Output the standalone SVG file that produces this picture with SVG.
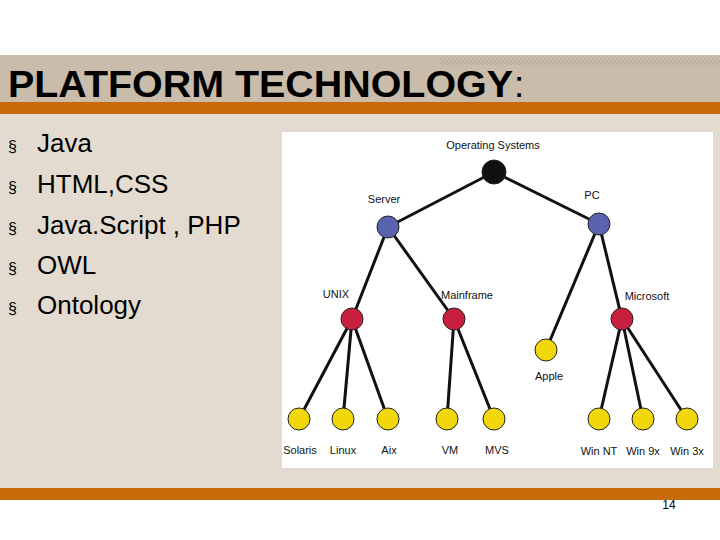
<svg xmlns="http://www.w3.org/2000/svg" width="720" height="540" viewBox="0 0 720 540">
<defs>
<pattern id="hatch" width="4" height="4" patternUnits="userSpaceOnUse"><rect width="4" height="4" fill="#c9bcaa"/><path d="M0,4 L4,0" stroke="#b3a694" stroke-width="1"/></pattern>
</defs>
<style>
.b{font-family:"Liberation Sans",Arial,sans-serif;font-size:26px;fill:#000}
.s{font-family:"Liberation Sans",Arial,sans-serif;font-size:16px;fill:#000}
.l{font-family:"Liberation Sans",Arial,sans-serif;font-size:11px;fill:#111;text-anchor:middle}
.e{stroke:#111;stroke-width:3;fill:none}
.n{stroke:#222;stroke-width:1}
</style>
<rect width="720" height="540" fill="#fff"/>
<rect x="0" y="55" width="720" height="48" fill="#c9bcaa"/>
<rect x="440" y="57" width="280" height="8" fill="url(#hatch)"/>
<rect x="0" y="102" width="720" height="12" fill="#c8690a"/>
<rect x="0" y="114" width="720" height="374" fill="#e3dbcf"/>
<rect x="0" y="488" width="720" height="12" fill="#c8690a"/>
<text x="8" y="97" font-family="Liberation Sans,Arial,sans-serif" font-size="37" font-weight="bold" textLength="505" lengthAdjust="spacingAndGlyphs">PLATFORM TECHNOLOGY</text>
<text x="514" y="97" font-family="Liberation Sans,Arial,sans-serif" font-size="37">:</text>
<g id="bullets">
<text class="s" x="8" y="152">§</text><text class="b" x="37" y="152">Java</text>
<text class="s" x="8" y="193">§</text><text class="b" x="37" y="193">HTML,CSS</text>
<text class="s" x="8" y="234">§</text><text class="b" x="37" y="234">Java.Script , PHP</text>
<text class="s" x="8" y="274">§</text><text class="b" x="37" y="274">OWL</text>
<text class="s" x="8" y="314">§</text><text class="b" x="37" y="314">Ontology</text>
</g>
<rect x="282" y="132" width="431" height="336" fill="#fff"/>
<g id="connectors" class="e">
<line x1="494" y1="172" x2="388" y2="227"/><line x1="494" y1="172" x2="599" y2="224"/>
<line x1="388" y1="227" x2="352" y2="319"/><line x1="388" y1="227" x2="454" y2="319"/>
<line x1="599" y1="224" x2="546" y2="350"/><line x1="599" y1="224" x2="622" y2="319"/>
<line x1="352" y1="319" x2="299" y2="419"/><line x1="352" y1="319" x2="343" y2="419"/><line x1="352" y1="319" x2="388" y2="419"/>
<line x1="454" y1="319" x2="447" y2="419"/><line x1="454" y1="319" x2="494" y2="419"/>
<line x1="622" y1="319" x2="599" y2="419"/><line x1="622" y1="319" x2="643" y2="419"/><line x1="622" y1="319" x2="687" y2="419"/>
</g>
<g id="os"><circle class="n" cx="494" cy="172" r="12" fill="#111"/><text class="l" x="493" y="149">Operating Systems</text></g>
<g id="server"><circle class="n" cx="388" cy="227" r="11" fill="#5a63b0"/><text class="l" x="384" y="203">Server</text></g>
<g id="pc"><circle class="n" cx="599" cy="224" r="11" fill="#5a63b0"/><text class="l" x="592" y="199">PC</text></g>
<g id="unix"><circle class="n" cx="352" cy="319" r="11" fill="#c8203e"/><text class="l" x="336" y="298">UNIX</text></g>
<g id="mainframe"><circle class="n" cx="454" cy="319" r="11" fill="#c8203e"/><text class="l" x="467" y="299">Mainframe</text></g>
<g id="microsoft"><circle class="n" cx="622" cy="319" r="11" fill="#c8203e"/><text class="l" x="647" y="300">Microsoft</text></g>
<g id="apple"><circle class="n" cx="546" cy="350" r="11" fill="#f2d80a"/><text class="l" x="549" y="380">Apple</text></g>
<g id="solaris"><circle class="n" cx="299" cy="419" r="11" fill="#f2d80a"/><text class="l" x="300" y="454">Solaris</text></g>
<g id="linux"><circle class="n" cx="343" cy="419" r="11" fill="#f2d80a"/><text class="l" x="343" y="454">Linux</text></g>
<g id="aix"><circle class="n" cx="388" cy="419" r="11" fill="#f2d80a"/><text class="l" x="389" y="454">Aix</text></g>
<g id="vm"><circle class="n" cx="447" cy="419" r="11" fill="#f2d80a"/><text class="l" x="450" y="454">VM</text></g>
<g id="mvs"><circle class="n" cx="494" cy="419" r="11" fill="#f2d80a"/><text class="l" x="497" y="454">MVS</text></g>
<g id="winnt"><circle class="n" cx="599" cy="419" r="11" fill="#f2d80a"/><text class="l" x="599" y="455">Win NT</text></g>
<g id="win9x"><circle class="n" cx="643" cy="419" r="11" fill="#f2d80a"/><text class="l" x="643" y="455">Win 9x</text></g>
<g id="win3x"><circle class="n" cx="687" cy="419" r="11" fill="#f2d80a"/><text class="l" x="687" y="455">Win 3x</text></g>
<text x="669" y="509" font-family="Liberation Sans,Arial,sans-serif" font-size="12" text-anchor="middle">14</text>
</svg>
